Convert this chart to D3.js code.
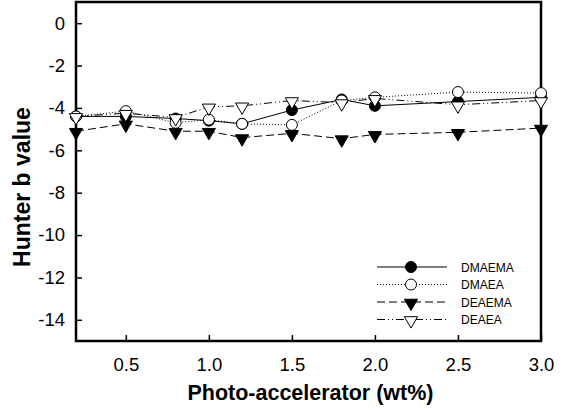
<!DOCTYPE html>
<html>
<head>
<meta charset="utf-8">
<script src="https://cdn.jsdelivr.net/npm/d3@7"></script>
<style>
  body { margin: 0; background: #fff; }
  svg text { font-family: "Liberation Sans", Arial, sans-serif; }
</style>
</head>
<body>
<div id="chartArea"></div>
<script>
var xVals = [0.2, 0.5, 0.8, 1.0, 1.2, 1.5, 1.8, 2.0, 2.5, 3.0];
var dmaema = [-4.4, -4.4, -4.5, -4.6, -4.75, -4.1, -3.6, -3.9, -3.7, -3.5];
var dmaea  = [-4.4, -4.15, -4.7, -4.55, -4.75, -4.8, -3.65, -3.5, -3.25, -3.3];
var deaema = [-5.1, -4.75, -5.1, -5.1, -5.4, -5.2, -5.45, -5.25, -5.15, -4.95];
var deaea  = [-4.4, -4.25, -4.45, -3.95, -3.9, -3.65, -3.75, -3.55, -3.85, -3.65];
var xTicks = [0.5, 1.0, 1.5, 2.0, 2.5, 3.0];
var yTicks = [0, -2, -4, -6, -8, -10, -12, -14];

var seriesNames = ["DMAEMA", "DMAEA", "DEAEMA", "DEAEA"];
var seriesVals = [dmaema, dmaea, deaema, deaea];
var seriesDash = ["none", "1,2", "8,4", "8,3,1,3,1,3"];
var seriesMark = ["circle", "circle", "tri", "tri"];
var seriesFill = ["#000", "#fff", "#000", "#fff"];

var margin = { top: 2, right: 34, bottom: 69, left: 76 },
  width = 575 - margin.left - margin.right,
  height = 410 - margin.top - margin.bottom;

var svg = d3.select("#chartArea").append("svg")
  .attr("width", 575)
  .attr("height", 410)
  .append("g")
  .attr("transform", "translate(" + margin.left + "," + margin.top + ")");

var x = d3.scaleLinear().domain([0.2, 3.0]).range([0, width]);
var y = d3.scaleLinear().domain([-15, 1]).range([height, 0]);

// plain hyphen for negatives, like the original
var fmtY = function (d) { return String(d); };

// inward ticks
svg.append("g")
  .attr("transform", "translate(0," + height + ")")
  .call(d3.axisBottom(x).tickValues(xTicks).tickFormat(d3.format(".1f")).tickSizeInner(-6).tickSizeOuter(0).tickPadding(17))
  .call(function (g) {
    g.select(".domain").remove();
    g.selectAll("line").attr("stroke", "#000").attr("stroke-width", 1.5);
    g.selectAll("text").attr("font-size", 18.5).attr("fill", "#000");
  });

svg.append("g")
  .call(d3.axisLeft(y).tickValues(yTicks).tickFormat(fmtY).tickSizeInner(-6).tickSizeOuter(0).tickPadding(11))
  .call(function (g) {
    g.select(".domain").remove();
    g.selectAll("line").attr("stroke", "#000").attr("stroke-width", 1.5);
    g.selectAll("text").attr("font-size", 18.5).attr("fill", "#000");
  });

svg.append("rect")
  .attr("width", width)
  .attr("height", height)
  .attr("fill", "none")
  .attr("stroke", "#000")
  .attr("stroke-width", 2.5);

var tri = d3.symbol().type(d3.symbolTriangle).size(75);

function drawMarker(g, kind, fill) {
  if (kind === "circle") {
    g.append("circle").attr("r", 5.5).attr("fill", fill).attr("stroke", "#000").attr("stroke-width", 1);
  } else {
    g.append("path").attr("d", tri).attr("transform", "rotate(180) translate(0,-1)")
      .attr("fill", fill).attr("stroke", "#000").attr("stroke-width", 1);
  }
}

var line = d3.line()
  .x(function (d) { return x(d[0]); })
  .y(function (d) { return y(d[1]); });

seriesVals.forEach(function (vals, i) {
  var pts = xVals.map(function (xv, j) { return [xv, vals[j]]; });
  svg.append("path")
    .datum(pts)
    .attr("d", line)
    .attr("fill", "none")
    .attr("stroke", "#000")
    .attr("stroke-width", 1)
    .attr("stroke-dasharray", seriesDash[i]);
  svg.selectAll(".m" + i)
    .data(pts)
    .enter().append("g")
    .attr("class", "m" + i)
    .attr("transform", function (d) { return "translate(" + x(d[0]) + "," + y(d[1]) + ")"; })
    .each(function () { drawMarker(d3.select(this), seriesMark[i], seriesFill[i]); });
});

// legend
var legend = svg.append("g").attr("transform", "translate(" + (377 - margin.left) + "," + (267 - margin.top) + ")");
seriesNames.forEach(function (name, i) {
  var row = legend.append("g").attr("transform", "translate(0," + (i * 17.5) + ")");
  row.append("line").attr("x1", 0).attr("x2", 70).attr("y1", 0).attr("y2", 0)
    .attr("stroke", "#000").attr("stroke-width", 1).attr("stroke-dasharray", seriesDash[i]);
  var m = row.append("g").attr("transform", "translate(34,0)");
  drawMarker(m, seriesMark[i], seriesFill[i]);
  row.append("text").attr("x", 84).attr("y", 4.5).attr("font-size", 12).text(name);
});

svg.append("text")
  .attr("x", width / 2 + 2)
  .attr("y", height + 59)
  .attr("text-anchor", "middle")
  .attr("font-size", 21.5)
  .attr("font-weight", "bold")
  .text("Photo-accelerator (wt%)");

svg.append("text")
  .attr("transform", "rotate(-90)")
  .attr("x", -185)
  .attr("y", -46)
  .attr("text-anchor", "middle")
  .attr("font-size", 23)
  .attr("font-weight", "bold")
  .text("Hunter b value");
</script>
</body>
</html>
